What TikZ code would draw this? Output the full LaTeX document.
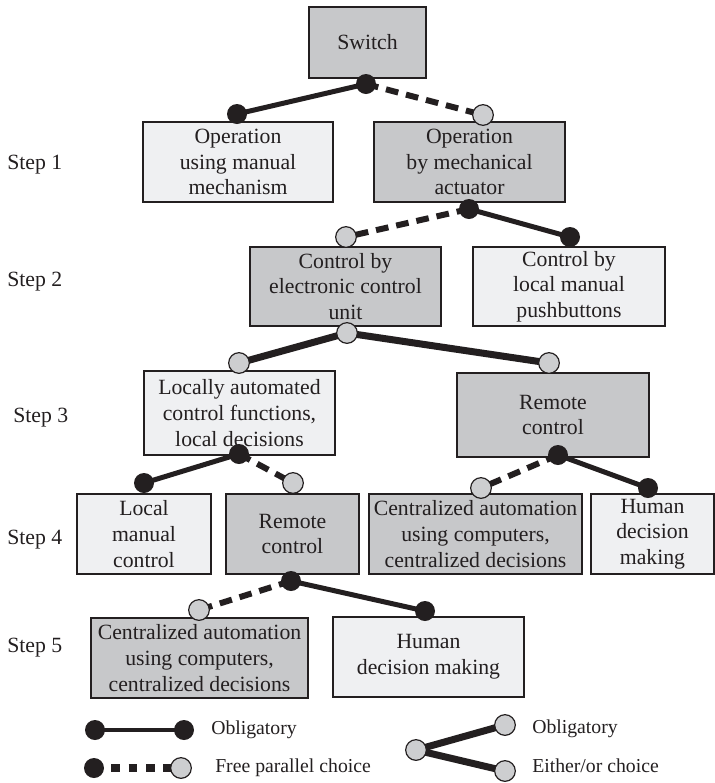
\documentclass[tikz,border=0pt]{standalone}
\usepackage{fontspec}
\setmainfont{Liberation Serif}
\usetikzlibrary{backgrounds}
\definecolor{ink}{HTML}{231F20}
\definecolor{darkfill}{HTML}{C7C8CA}
\definecolor{lightfill}{HTML}{EFF0F2}
\definecolor{dotgray}{HTML}{CDCED0}
\begin{document}
\begin{tikzpicture}[x=0.75pt,y=-0.75pt,
  txt/.style={font=\fontsize{16.3}{19.2}\selectfont, text=ink},
  box/.style n args={2}{draw=ink, line width=1.1pt, inner sep=0pt, align=center,
    minimum width=#1*0.75pt, minimum height=#2*0.75pt, txt},
  darkbox/.style n args={2}{box={#1}{#2}, fill=darkfill},
  lightbox/.style n args={2}{box={#1}{#2}, fill=lightfill},
  bdot/.style={circle, fill=ink, inner sep=0pt, minimum size=15pt},
  gdot/.style={circle, fill=dotgray, draw=ink, line width=0.9pt, inner sep=0pt, minimum size=15.5pt},
  must/.style={draw=ink, line width=3.75pt},
  free/.style={draw=ink, line width=4.5pt, dash pattern=on 9.5pt off 6pt},
  either/.style={draw=ink, line width=5.25pt},
  steplabel/.style={txt, anchor=west, inner sep=0pt},
  legtext/.style={font=\fontsize{14.8}{18}\selectfont, text=ink, anchor=west, inner sep=0pt}]
\useasboundingbox (0,0) rectangle (715,783);

% boxes of the decision tree
\node[darkbox={117}{71}]  (sw)  at (367.5,42.5) {Switch};
\node[lightbox={190}{80}] (b1a) at (238,162)    {Operation\\using manual\\mechanism};
\node[darkbox={191}{80}]  (b1b) at (469.5,162)  {Operation\\by mechanical\\actuator};
\node[darkbox={191}{79}]  (b2a) at (345.5,286.5){Control by\\electronic control\\unit};
\node[lightbox={192}{79}] (b2b) at (569,286.5)  {Control by\\local manual\\pushbuttons};
\node[lightbox={191}{84}] (b3a) at (239.5,413)  {Locally automated\\control functions,\\local decisions};
\node[darkbox={192}{84}]  (b3b) at (553,415)    {Remote\\control};
\node[lightbox={134}{80}] (b4a) at (144,534)    {Local\\manual\\control};
\node[darkbox={133}{80}]  (b4b) at (292.5,534)  {Remote\\control};
\node[darkbox={213}{80}]  (b4c) at (475.5,534)  {Centralized automation\\using computers,\\centralized decisions};
\node[lightbox={123}{80}] (b4d) at (652.5,534)  {Human\\decision\\making};
\node[darkbox={217}{80}]  (b5a) at (199.5,658)  {Centralized automation\\using computers,\\centralized decisions};
\node[lightbox={191}{80}] (b5b) at (428.5,657)  {Human\\decision making};

% step labels
\node[steplabel] (st1) at (7,165) {Step 1};
\node[steplabel] (st2) at (7,282) {Step 2};
\node[steplabel] (st3) at (13,418) {Step 3};
\node[steplabel] (st4) at (7,540) {Step 4};
\node[steplabel] (st5) at (7,648) {Step 5};

% junction dots
\node[bdot] (j0)  at (366,84)  {};
\node[bdot] (j1a) at (237,114) {};
\node[gdot] (j1b) at (483,115) {};
\node[bdot] (j1)  at (469,209) {};
\node[gdot] (j2a) at (346,237) {};
\node[bdot] (j2b) at (570,237) {};
\node[gdot] (j2)  at (347,333) {};
\node[gdot] (j3a) at (239,363) {};
\node[gdot] (j3b) at (549,363) {};
\node[bdot] (j3l) at (239,454) {};
\node[bdot] (j4a) at (144,483) {};
\node[gdot] (j4b) at (293,483) {};
\node[bdot] (j3r) at (558,455) {};
\node[gdot] (j4c) at (481,488) {};
\node[bdot] (j4d) at (648,488) {};
\node[bdot] (j4)  at (291,581) {};
\node[gdot] (j5a) at (199,610) {};
\node[bdot] (j5b) at (425,611) {};

% legend
\node[bdot] (la1) at (95,730)  {};
\node[bdot] (lb1) at (184,730) {};
\node[legtext] (lt1) at (211,730) {Obligatory};
\node[bdot] (la2) at (94,768)  {};
\node[gdot] (lb2) at (181,768) {};
\node[legtext] (lt2) at (215,768) {Free parallel choice};
\node[gdot] (lc)  at (416,750) {};
\node[gdot] (lc1) at (505,725) {};
\node[gdot] (lc2) at (505,771) {};
\node[legtext] (lt3) at (532,729) {Obligatory};
\node[legtext] (lt4) at (532,766) {Either/or choice};

\begin{pgfonlayer}{background}
  \draw[must] (j0.center) -- (j1a.center);
  \draw[free] (j0.center) -- (j1b.center);
  \draw[free] (j1.center) -- (j2a.center);
  \draw[must] (j1.center) -- (j2b.center);
  \draw[either] (j2.center) -- (j3a.center);
  \draw[either] (j2.center) -- (j3b.center);
  \draw[must] (j3l.center) -- (j4a.center);
  \draw[free] (j3l.center) -- (j4b.center);
  \draw[free] (j3r.center) -- (j4c.center);
  \draw[must] (j3r.center) -- (j4d.center);
  \draw[free] (j4.center) -- (j5a.center);
  \draw[must] (j4.center) -- (j5b.center);
  \draw[draw=ink, line width=3pt] (la1.center) -- (lb1.center);
  \draw[draw=ink, line width=6pt, dash pattern=on 6.5pt off 6.5pt] (la2.center) -- (lb2.center);
  \draw[either] (lc.center) -- (lc1.center);
  \draw[either] (lc.center) -- (lc2.center);
\end{pgfonlayer}
\end{tikzpicture}
\end{document}
